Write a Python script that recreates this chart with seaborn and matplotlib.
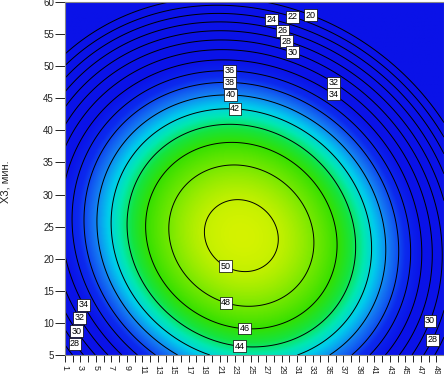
import numpy as np
import matplotlib
matplotlib.use("Agg")
import matplotlib.pyplot as plt
import seaborn as sns
from matplotlib.colors import LinearSegmentedColormap, Normalize

# quadratic response surface
peak_value = 50.7
peak_x = 23.8
peak_y = 23.6
coef_xx = 0.031
coef_yy = 0.0225
coef_xy = 0.0053

x_range = [1, 50]
y_range = [5, 60]
levels = list(range(20, 51, 2))
x_ticks = list(range(1, 50, 2))
x_minor = list(range(2, 50, 2))
y_ticks = list(range(5, 61, 5))
y_label = "Х3, мин."

# colour scale (value -> colour)
color_values = [34, 37, 39.5, 41.5, 43, 44.5, 46, 48, 50, 51.5]
color_hex = ["#0a12e8", "#0c2aee", "#1478f2", "#00ccec", "#00e8b0",
             "#14e440", "#34e000", "#74e800", "#c2f000", "#e8f600"]

# where the contour labels sit
label_spots = [(32.8, 58.1), (30.4, 57.8), (27.7, 57.3), (29.1, 55.6),
               (29.7, 54.0), (30.4, 52.2), (22.3, 49.3), (22.3, 47.5),
               (22.4, 45.5), (23.0, 43.4), (35.8, 47.5), (35.7, 45.6),
               (21.8, 19.0), (21.8, 13.1), (24.2, 9.2), (23.6, 6.4),
               (3.15, 12.65), (2.6, 10.6), (2.3, 8.55), (2.07, 6.53),
               (48.5, 10.2), (48.8, 7.2)]

sns.set_theme(style="ticks")
plt.rcParams["font.family"] = ["Liberation Sans", "DejaVu Sans"]

xs = np.linspace(x_range[0], x_range[1], 392)
ys = np.linspace(y_range[0], y_range[1], 442)
X, Y = np.meshgrid(xs, ys)
dx = X - peak_x
dy = Y - peak_y
Z = peak_value - coef_xx * dx ** 2 - coef_yy * dy ** 2 - coef_xy * dx * dy

lo, hi = color_values[0], color_values[-1]
stops = [(v - lo) / (hi - lo) for v in color_values]
cmap = LinearSegmentedColormap.from_list("surf", list(zip(stops, color_hex)))
cmap.set_under(color_hex[0])
cmap.set_over(color_hex[-1])
norm = Normalize(vmin=lo, vmax=hi)

fig = plt.figure(figsize=(4.44, 3.74), dpi=100)
ax = fig.add_axes([65 / 444, 19 / 374, 379 / 444, 353 / 374])
ax.imshow(Z, cmap=cmap, norm=norm, origin="lower", aspect="auto",
          extent=[x_range[0], x_range[1], y_range[0], y_range[1]],
          interpolation="bilinear")
cs = ax.contour(X, Y, Z, levels=levels, colors="black", linewidths=0.7)
ax.set_xlim(x_range)
ax.set_ylim(y_range)

labels = ax.clabel(cs, fmt="%d", fontsize=6.5, inline=False, manual=label_spots)
for t in labels:
    t.set_rotation(0)
    t.set_bbox(dict(boxstyle="square,pad=0.15", fc="white", ec="black", lw=0.5))

ax.set_xticks(x_ticks)
ax.set_xticks(x_minor, minor=True)
ax.set_yticks(y_ticks)
ax.tick_params(axis="x", which="both", direction="out", length=5, width=0.7,
               labelsize=6.5, labelrotation=-90, pad=2, colors="#222222")
ax.tick_params(axis="y", direction="out", length=7, width=0.7,
               labelsize=7, pad=1, colors="#222222")
for s in ax.spines.values():
    s.set_color("#888888")
    s.set_linewidth(0.8)

ax.set_ylabel(y_label, fontsize=8, color="#222222")
ax.yaxis.set_label_coords(-0.145, 0.49)

fig.savefig("out.png", dpi=100)
